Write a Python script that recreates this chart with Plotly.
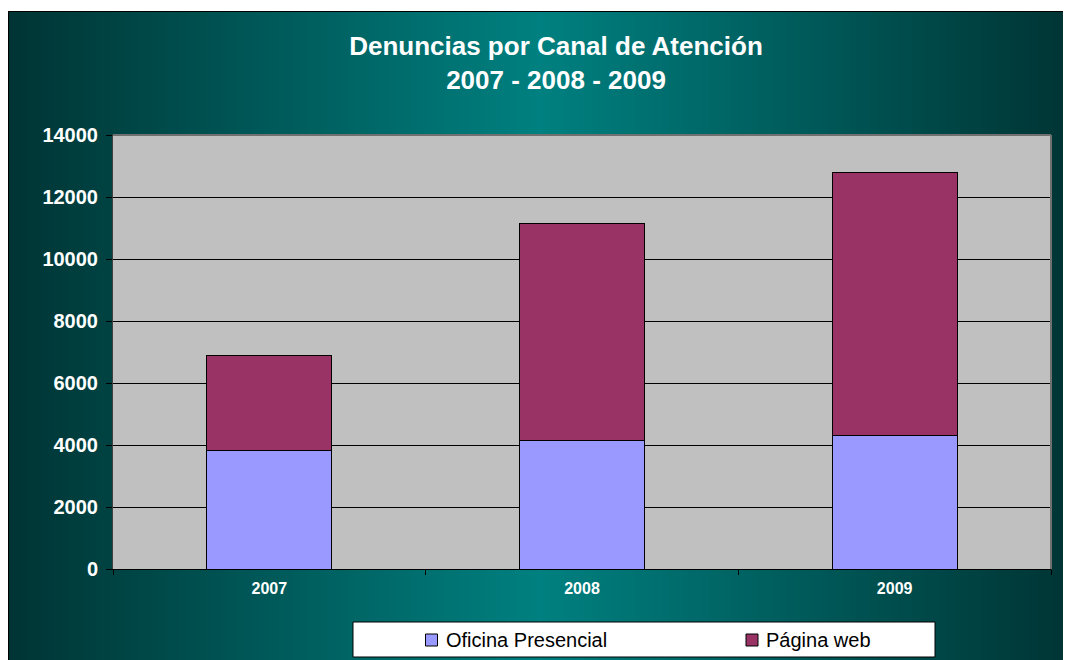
import base64
import struct
import zlib

import plotly.graph_objects as go

# datos
anios = ['2007', '2008', '2009']
series = ['Oficina Presencial', 'Página web']
oficina_presencial = [3830, 4160, 4320]
pagina_web = [3050, 6970, 8480]
colores = ['#9999FF', '#993366']

# la pagina deja 8 px de margen en el body
OFF = 8
W, H = 1071 - OFF, 660 - OFF
# area del grafico en pixeles de la imagen de referencia
L, R, T, B = 113, 1051, 135, 569
PW, PH = R - L, B - T


def px_x(x):
    return (x - L) / PW


def px_y(y):
    return (B - y) / PH


def gradiente_png(ancho, alto, centro, borde):
    # degradado horizontal: oscuro en los bordes, claro en el centro
    mitad = (ancho - 1) / 2
    fila = b'\x00'
    for i in range(ancho):
        t = abs(i - mitad) / mitad
        c = [round(centro[k] * (1 - t) + borde[k] * t) for k in range(3)]
        fila += bytes(c)
    filas = fila * alto

    def chunk(tipo, datos):
        return (struct.pack('>I', len(datos)) + tipo + datos
                + struct.pack('>I', zlib.crc32(tipo + datos) & 0xffffffff))

    png = b'\x89PNG\r\n\x1a\n'
    png += chunk(b'IHDR', struct.pack('>IIBBBBB', ancho, alto, 8, 2, 0, 0, 0))
    png += chunk(b'IDAT', zlib.compress(filas))
    png += chunk(b'IEND', b'')
    return 'data:image/png;base64,' + base64.b64encode(png).decode()


fondo = gradiente_png(531, 2, (0, 128, 128), (0, 52, 52))

fig = go.Figure()
for nombre, valores, color in zip(series, [oficina_presencial, pagina_web], colores):
    fig.add_trace(go.Bar(x=anios, y=valores, name=nombre, showlegend=False,
                         marker=dict(color=color, line=dict(color='black', width=1))))

shapes = [
    # area de trazado gris
    dict(type='rect', xref='paper', yref='paper', x0=0, x1=1, y0=0, y1=1,
         fillcolor='#C0C0C0', line=dict(width=0), layer='below'),
    # borde del area de trazado
    dict(type='line', xref='paper', yref='paper', x0=0, x1=1, y0=1, y1=1,
         line=dict(color='#707070', width=2), layer='above'),
    dict(type='line', xref='paper', yref='paper', x0=1, x1=1, y0=0, y1=1,
         line=dict(color='#707070', width=2), layer='above'),
    # borde del grafico
    dict(type='line', xref='paper', yref='paper', x0=px_x(8), x1=px_x(1071), y0=px_y(11.5), y1=px_y(11.5),
         line=dict(color='black', width=1), layer='above'),
    dict(type='line', xref='paper', yref='paper', x0=px_x(8.5), x1=px_x(8.5), y0=px_y(11), y1=px_y(660),
         line=dict(color='black', width=1), layer='above'),
    # caja de la leyenda
    dict(type='rect', xref='paper', yref='paper', x0=px_x(353), x1=px_x(935),
         y0=px_y(657), y1=px_y(622), fillcolor='white',
         line=dict(color='black', width=1), layer='above'),
]
annotations = []
# leyenda dibujada a mano
for i, (nombre, color) in enumerate(zip(series, colores)):
    cx = 431.5 + i * 320.5
    shapes.append(dict(type='rect', xref='paper', yref='paper',
                       x0=px_x(cx - 6), x1=px_x(cx + 6), y0=px_y(646), y1=px_y(634),
                       fillcolor=color, line=dict(color='black', width=1), layer='above'))
    annotations.append(dict(text=nombre, xref='paper', yref='paper', x=px_x(cx + 12),
                            y=px_y(640), xanchor='left', yanchor='middle', showarrow=False,
                            font=dict(size=20, color='black', family='Arial')))

fig.update_layout(
    width=W, height=H,
    margin=dict(l=L - OFF, r=1071 - R, t=T - OFF, b=660 - B),
    paper_bgcolor='white',
    plot_bgcolor='rgba(0,0,0,0)',
    barmode='stack',
    bargap=0.6,
    font=dict(family='Arial', color='white'),
    title=dict(text='Denuncias por Canal de Atención<br>2007 - 2008 - 2009',
               font=dict(size=26, color='white', weight='bold'),
               x=(556 - OFF) / W, xanchor='center', y=1 - (55 - OFF) / H, yanchor='middle'),
    images=[dict(source=fondo, xref='paper', yref='paper', x=px_x(8), y=px_y(11),
                 sizex=W / PW, sizey=(660 - 11) / PH, sizing='stretch',
                 xanchor='left', yanchor='top', layer='below')],
    shapes=shapes,
    annotations=annotations,
)

fig.update_xaxes(type='category', tickson='boundaries', ticks='outside', ticklen=5,
                 tickcolor='black', showgrid=False, showline=True, linecolor='black',
                 linewidth=1, tickfont=dict(size=16, color='white', weight='bold'),
                 ticklabelstandoff=5)
fig.update_yaxes(range=[0, 14000], dtick=2000, tickformat='d', showgrid=True,
                 gridcolor='black', gridwidth=1, zeroline=False, ticks='outside',
                 ticklen=6, tickcolor='black', showline=True, linecolor='#404040',
                 linewidth=1, tickfont=dict(size=20, color='white', weight='bold'),
                 ticklabelstandoff=4)

fig.write_html('out.html')
